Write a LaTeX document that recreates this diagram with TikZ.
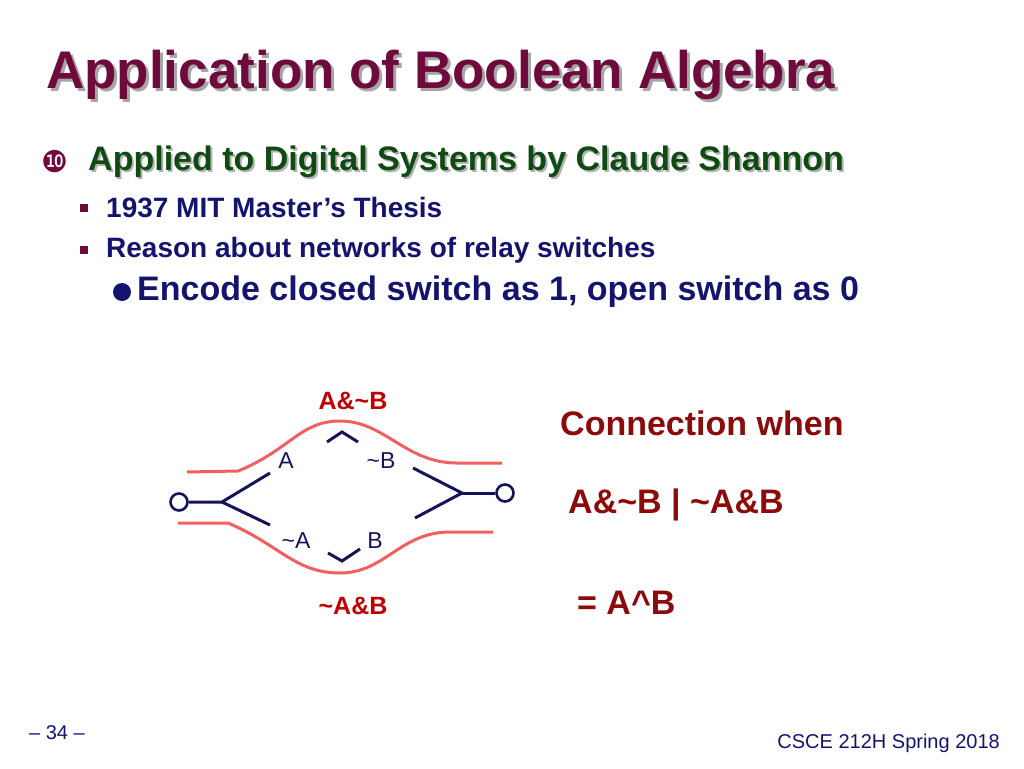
\documentclass[tikz,border=0pt]{standalone}
\usepackage{fontspec}
\setmainfont{Liberation Sans}
\newfontfamily\djv{DejaVu Sans}
\definecolor{maroon}{HTML}{6E0A3C}
\definecolor{dgreen}{HTML}{0F4A12}
\definecolor{navy}{HTML}{14146E}
\definecolor{redtxt}{HTML}{C00000}
\definecolor{dred}{HTML}{8B0A0A}
\definecolor{wire}{HTML}{F06060}
\definecolor{sw}{HTML}{14145A}
\begin{document}
\begin{tikzpicture}[x=1pt,y=-1pt,
  wirel/.style={draw=wire,line width=3pt},
  swl/.style={draw=sw,line width=3pt},
  term/.style={circle,draw=sw,line width=2.6pt,minimum size=17pt,inner sep=0pt,fill=white},
  lab/.style={font=\fontsize{23}{26}\selectfont,text=sw},
  rlab/.style={font=\bfseries\fontsize{25}{28}\selectfont,text=redtxt},
  rt/.style={font=\bfseries\fontsize{34}{38}\selectfont,text=dred,anchor=west}]
\useasboundingbox (0,0) rectangle (1024,768);
% title
\node[anchor=west,inner sep=0pt,font=\bfseries\fontsize{53}{60}\selectfont,text=gray!70] at (49,78) {Application of Boolean Algebra};
\node[anchor=west,inner sep=0pt,font=\bfseries\fontsize{53}{60}\selectfont,text=maroon] (title) at (46,75) {Application of Boolean Algebra};
% bullets
\node[font=\djv\fontsize{30}{32}\selectfont,text=maroon] (b1) at (55,162) {❿};
\node[anchor=west,inner sep=0pt,font=\bfseries\fontsize{34}{38}\selectfont,text=gray!60] at (90,164) {Applied to Digital Systems by Claude Shannon};
\node[anchor=west,inner sep=0pt,font=\bfseries\fontsize{34}{38}\selectfont,text=dgreen] (t1) at (88,162) {Applied to Digital Systems by Claude Shannon};
\fill[maroon] (80,204) rectangle (88,212);
\node[anchor=west,inner sep=0pt,font=\bfseries\fontsize{28}{32}\selectfont,text=navy] (t2) at (106,208) {1937 MIT Master’s Thesis};
\fill[maroon] (80,246) rectangle (88,254);
\node[anchor=west,inner sep=0pt,font=\bfseries\fontsize{28}{32}\selectfont,text=navy] (t3) at (106,250) {Reason about networks of relay switches};
\fill[navy] (122,292) circle (9);
\node[anchor=west,inner sep=0pt,font=\bfseries\fontsize{34}{38}\selectfont,text=navy] (t4) at (137,292) {Encode closed switch as 1, open switch as 0};
% wires
\draw[wirel] (187,472) -- (238,471) .. controls (290,450) and (300,421) .. (340,421) .. controls (385,421) and (405,463) .. (457,463) -- (502,463);
\draw[wirel] (178,523) -- (228,523) .. controls (280,545) and (295,573) .. (340,573) .. controls (385,573) and (400,532) .. (450,532) -- (493,532);
% switches
\coordinate (lj) at (222,502);
\coordinate (rj) at (462,493);
\node[term] (L) at (179,502) {};
\node[term] (R) at (505,493) {};
\draw[swl] (L) -- (lj) -- (270,473);
\draw[swl] (lj) -- (270,525);
\draw[swl] (327,442) -- (342,432) -- (358,442);
\draw[swl] (328,553) -- (342,561) -- (360,549);
\draw[swl] (413,468) -- (rj) -- (415,518);
\draw[swl] (rj) -- (R);
\node[lab] (la) at (286,461) {A};
\node[lab] (lnb) at (381,461) {\char`\~B};
\node[lab] (lna) at (296,541) {\char`\~A};
\node[lab] (lb) at (375,541) {B};
\node[rlab] (top) at (353,401) {A\&\char`\~B};
\node[rlab] (bot) at (353,606) {\char`\~A\&B};
% right text
\node[rt,inner sep=0pt] (c1) at (560,423) {Connection when};
\node[rt,inner sep=0pt] (c2) at (568,505) {A\&\char`\~B | \char`\~A\&B};
\node[rt,inner sep=0pt] (c3) at (577,603) {= A\char`\^B};
% footer
\node[font=\fontsize{20}{22}\selectfont,text=navy] (pg) at (57,733) {– 34 –};
\node[anchor=east,inner sep=0pt,font=\fontsize{20}{22}\selectfont,text=navy] (ft) at (1000,743) {CSCE 212H Spring 2018};
\end{tikzpicture}
\end{document}
